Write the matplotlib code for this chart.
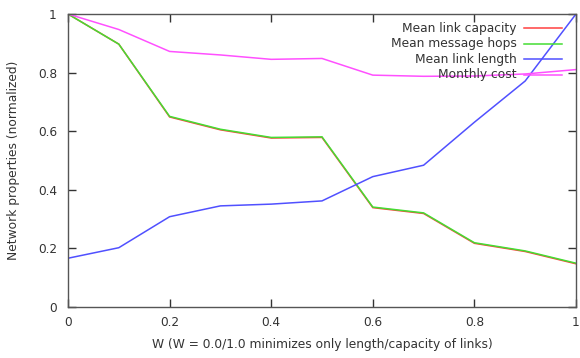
import matplotlib
matplotlib.use("Agg")
import matplotlib.pyplot as plt

w = [0.0, 0.1, 0.2, 0.3, 0.4, 0.5, 0.6, 0.7, 0.8, 0.9, 1.0]
link_capacity = [1.0, 0.897, 0.648, 0.604, 0.576, 0.578, 0.338, 0.318, 0.216, 0.188, 0.146]
message_hops = [1.0, 0.897, 0.650, 0.606, 0.578, 0.580, 0.340, 0.320, 0.218, 0.190, 0.148]
link_length = [0.165, 0.201, 0.307, 0.344, 0.350, 0.361, 0.444, 0.483, 0.630, 0.771, 1.0]
monthly_cost = [1.0, 0.947, 0.872, 0.860, 0.845, 0.848, 0.791, 0.787, 0.788, 0.795, 0.810]

labels = ["Mean link capacity", "Mean message hops", "Mean link length", "Monthly cost"]
colors = ["#ff4040", "#44dd33", "#5050ff", "#ff50ff"]
series = [link_capacity, message_hops, link_length, monthly_cost]

plt.rcParams['font.family'] = ['DejaVu Sans']
fig = plt.figure(figsize=(5.8, 3.58), dpi=100)
ax = fig.add_axes([68/580, 1 - 306.5/358, (576-68)/580, (306.5-14)/358])

for ys, c in zip(series, colors):
    ax.plot(w, ys, color=c, lw=1.1, solid_joinstyle='miter')

ax.set_xlim(0, 1)
ax.set_ylim(0, 1)
ticks = [0, 0.2, 0.4, 0.6, 0.8, 1]
ticklabels = ["0", "0.2", "0.4", "0.6", "0.8", "1"]
ax.set_xticks(ticks)
ax.set_xticklabels(ticklabels)
ax.set_yticks(ticks)
ax.set_yticklabels(ticklabels)
ax.tick_params(direction='in', length=6, width=1, top=True, right=True,
               labelsize=8.7, colors='#333333', pad=7)
ax.tick_params(axis='y', pad=8)
for s in ax.spines.values():
    s.set_color('#555555')
    s.set_linewidth(1)

ax.set_xlabel("W (W = 0.0/1.0 minimizes only length/capacity of links)", fontsize=8.8, color='#333333', labelpad=6)
ax.set_ylabel("Network properties (normalized)", fontsize=8.8, color='#333333', labelpad=13)

# gnuplot-style legend: right-aligned text, sample line to the right
tx = (517 - 68) / (576 - 68)
lx0 = (524 - 68) / (576 - 68)
lx1 = (562 - 68) / (576 - 68)
rows_px = [28.3, 43.8, 59.3, 74.8]
for lab, c, ypx in zip(labels, colors, rows_px):
    ya = (306.5 - ypx) / (306.5 - 14)
    ax.text(tx, ya, lab, transform=ax.transAxes, ha='right', va='center',
            fontsize=8.8, color='#333333')
    ax.plot([lx0, lx1], [ya, ya], transform=ax.transAxes, color=c, lw=1.1)

fig.savefig("out.png", dpi=100)
